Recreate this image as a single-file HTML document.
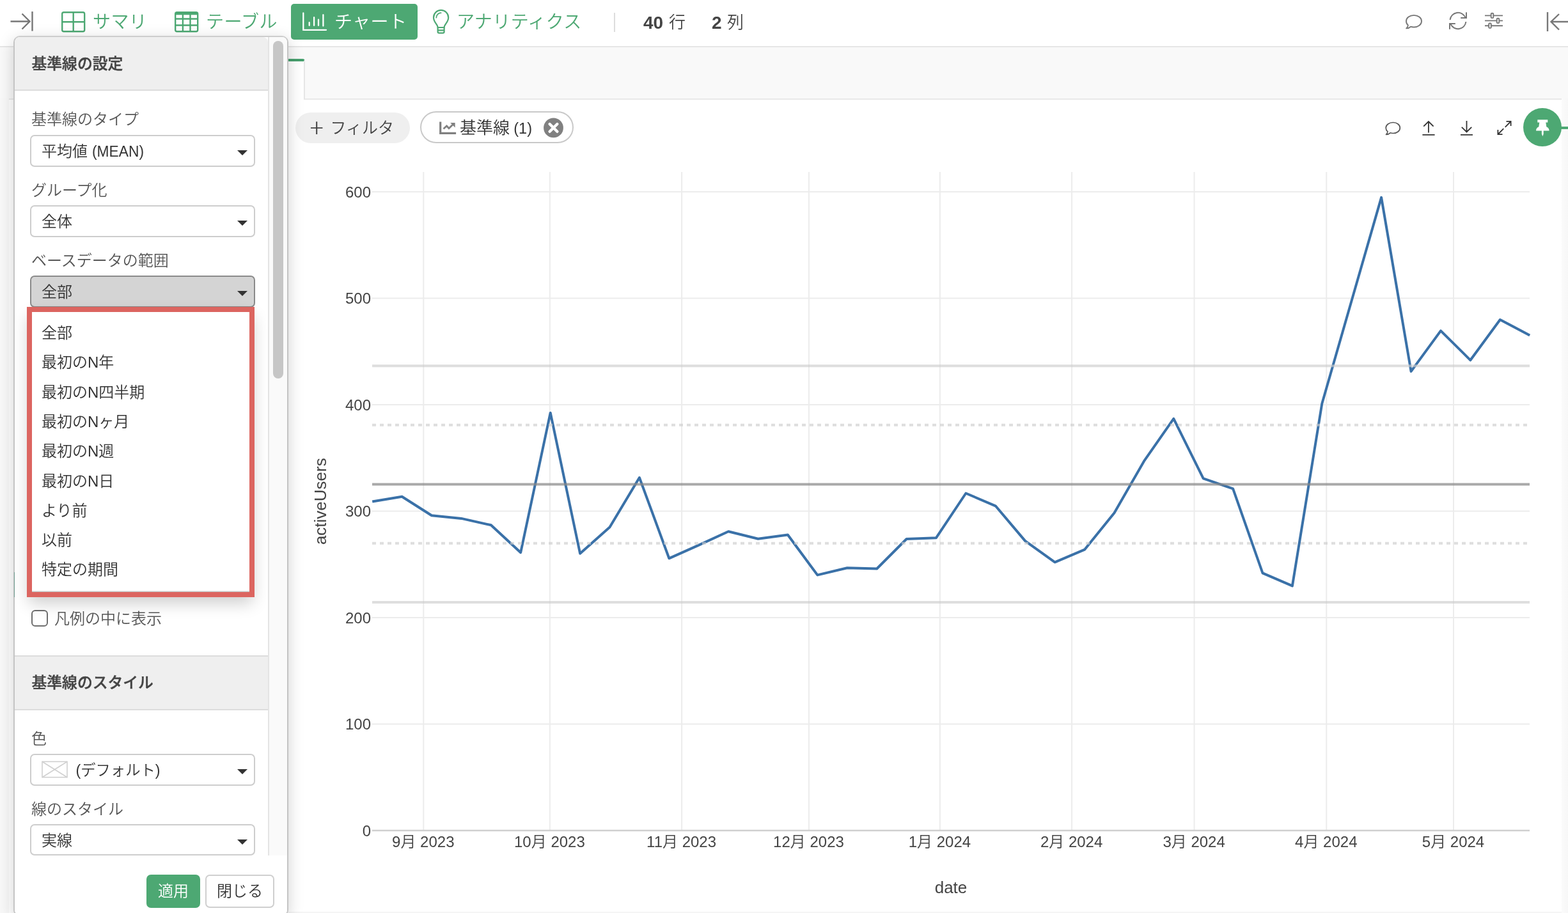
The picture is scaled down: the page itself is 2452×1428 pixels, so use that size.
<!DOCTYPE html>
<html lang="ja">
<head>
<meta charset="utf-8">
<title>チャート - 基準線の設定</title>
<style>
*{box-sizing:border-box;}
html,body{margin:0;padding:0;width:2452px;height:1428px;overflow:hidden;background:#fff;}
body{position:relative;font-family:"Liberation Sans","Noto Sans CJK JP",sans-serif;color:#333;font-weight:350;}
b{font-weight:700;}
.abs{position:absolute;}
.t{position:absolute;white-space:nowrap;line-height:1;}
.jp{font-family:"Liberation Sans","Noto Sans CJK JP",sans-serif;}
.topbar{position:absolute;left:0;top:0;width:2452px;height:72px;background:#fff;}
.topline{position:absolute;left:0;top:72px;width:2452px;height:2px;background:#e6e6e6;}
.tabarea{position:absolute;left:0;top:74px;width:2452px;height:80px;background:#f9f9f9;}
.tabline{position:absolute;left:14px;top:154px;width:2428px;height:2px;background:#e9e9e9;}
.tab{position:absolute;left:440px;top:92px;width:37px;height:64px;background:#fff;border-top:4px solid #469f6d;border-right:2px solid #e6e6e6;border-top-right-radius:4px;}
.rstrip{position:absolute;left:2442px;top:154px;width:10px;height:1274px;background:linear-gradient(to right,#fbfbfb,#f7f7f7);}
.botline{position:absolute;left:451px;top:1426px;width:1991px;height:2px;background:#f5f5f5;}
.nav{font-size:28px;color:#4da873;letter-spacing:0.4px;}
.chart{position:absolute;left:0;top:0;}
.tick{font-family:"Liberation Sans",sans-serif;font-size:24px;fill:#444;}
.tick{font-family:"Liberation Sans","Noto Sans CJK JP",sans-serif;}
.atitle{font-family:"Liberation Sans",sans-serif;font-size:26px;fill:#444;}
.chartbtn{position:absolute;left:455px;top:6px;width:198px;height:56px;border-radius:5px;background:#4da873;}
.pill1{position:absolute;left:462px;top:176px;width:179px;height:48px;border-radius:24px;background:#efefef;}
.pill2{position:absolute;left:657px;top:174px;width:240px;height:50px;border-radius:25px;background:#fff;border:2px solid #c9c9c9;}
.pin{position:absolute;left:2382px;top:169px;width:60px;height:60px;border-radius:30px;background:#4da873;}
.pinline{position:absolute;left:2440px;top:198px;width:12px;height:4px;background:#4da873;}
/* panel */
.panel{position:absolute;left:21px;top:56px;width:430px;height:1377px;background:#fff;border:2px solid #c4c4c4;border-top-color:#cdcdcd;border-radius:10px;box-shadow:0 6px 24px rgba(0,0,0,0.18);overflow:hidden;}
.phead{position:absolute;left:0;width:396px;background:#efefef;border-bottom:2px solid #dcdcdc;}
.ptitle{font-size:23.8px;font-weight:500;color:#444;-webkit-text-stroke:0.4px #444;}
.sbtrack{position:absolute;left:396px;top:0;width:30px;height:1280px;background:#fafafa;border-left:2px solid #e4e4e4;}
.sbthumb{position:absolute;left:404px;top:6px;width:16px;height:528px;border-radius:8px;background:#c6c6c6;}
.lbl{font-size:24px;color:#555;}
.sel{position:absolute;left:24px;width:352px;height:50px;border:2px solid #cdcdcd;border-radius:7px;background:#fff;}
.sel.on{background:#d4d4d4;border-color:#8a8a8a;}
.sel .v{position:absolute;left:16px;top:1px;line-height:46px;font-size:24px;color:#333;white-space:nowrap;}
.sel .c{position:absolute;right:10px;top:22px;width:0;height:0;border-left:8px solid transparent;border-right:8px solid transparent;border-top:8px solid #333;}
.dd{position:absolute;left:19px;top:422px;width:356px;height:454px;background:#fff;border:8px solid #dc6560;box-shadow:0 12px 24px -3px rgba(0,0,0,0.2);}
.dd:after{content:'';position:absolute;left:0;right:0;bottom:0;height:2px;background:linear-gradient(rgba(0,0,0,0.05),rgba(0,0,0,0.28));}
.dd .i{position:absolute;left:15px;font-size:24px;color:#333;white-space:nowrap;line-height:46px;height:46px;}
.cb{position:absolute;left:26px;top:896px;width:26px;height:26px;border:2px solid #6e6e6e;border-radius:6px;background:#fff;}
.pfoot{position:absolute;left:0;top:1280px;width:426px;height:120px;background:#fff;}
.btn{position:absolute;top:1310px;height:52px;border-radius:7px;font-size:24px;text-align:center;line-height:48px;white-space:nowrap;}
.btn.ok{left:206px;width:84px;background:#4da873;color:#fff;border:2px solid #4da873;}
.btn.cl{left:298px;width:108px;background:#fff;color:#333;border:2px solid #cfcfcf;}
</style>
</head>
<body>
<div class="topbar"></div>
<div class="topline"></div>
<div class="tabarea"></div>
<div class="tabline"></div>
<div class="tab"></div>
<div class="rstrip"></div>
<div class="abs" style="left:0;top:154px;width:14px;height:1274px;background:#f8f8f8"></div>
<div class="botline"></div>

<!-- top nav -->
<div class="t nav" style="left:145px;top:21px">サマリ</div>
<div class="t nav" style="left:322px;top:21px">テーブル</div>
<div class="chartbtn"></div>
<div class="t nav" style="left:523px;top:21px;color:#fff">チャート</div>
<div class="t nav" style="left:714px;top:21px">アナリティクス</div>
<div class="abs" style="left:960px;top:20px;width:2px;height:30px;background:#ddd"></div>
<div class="t" style="left:1006px;top:22px;font-size:28px;color:#444"><b>40</b></div><div class="t" style="left:1046px;top:22px;font-size:26px;color:#444">行</div>
<div class="t" style="left:1113px;top:22px;font-size:28px;color:#444"><b>2</b></div><div class="t" style="left:1137px;top:22px;font-size:26px;color:#444">列</div>

<!-- chart toolbar -->
<div class="pill1"></div>
<div class="t" style="left:484.500px;top:178px;font-size:40px;font-weight:300;color:#444;font-family:'Noto Sans CJK JP',sans-serif">+</div>
<div class="t" style="left:516.500px;top:188px;font-size:25px;color:#444">フィルタ</div>
<div class="pill2"></div>
<div class="t" style="left:719px;top:187px;font-size:26px;color:#333">基準線 <span style="font-size:23.500px;margin-left:-1px">(1)</span></div>
<div class="pinline"></div>
<div class="pin"></div>

<svg class="abs" style="left:0;top:0" width="2452" height="240" viewBox="0 0 2452 240" fill="none">
  <!-- expand sidebar -->
  <path d="M16.500 33.500H46M34.500 21.500L46.500 33.500L34.500 45.500M50.500 18V48.500" stroke="#777" stroke-width="2.400"/>
  <!-- summary -->
  <g stroke="#4da873" stroke-width="2.400"><rect x="97.200" y="19.200" width="35" height="30" rx="2.500"/><path d="M114.700 19.200V49.200M97.200 34.200H132.200"/></g>
  <!-- table -->
  <g stroke="#4da873" stroke-width="2.400"><rect x="274.200" y="19.200" width="35" height="30" rx="2.500"/><path d="M274.200 21.200H309.200" stroke-width="4"/><path d="M285.900 19.200V49.200M297.500 19.200V49.200M274.200 29.500H309.200M274.200 39.500H309.200"/></g>
  <!-- chart -->
  <g stroke="#fff" stroke-width="2.300" stroke-linecap="round"><path d="M474.300 20.500V46.800H510"/><path d="M483.700 39.800V35.200M491.100 39.800V27.200M498 39.800V30.700M505.400 40.500V23.200"/></g>
  <!-- bulb -->
  <g stroke="#4da873" stroke-width="2.200" stroke-linejoin="round" stroke-linecap="round"><path d="M684.600 43C684.600 38 678 35 678 27.500A11.600 11.600 0 0 1 701.200 27.500C701.200 35 694.600 38 694.600 43Z"/><path d="M684.600 43V49.500Q684.600 51.600 686.700 51.600H692.500Q694.600 51.600 694.600 49.500V43M684.600 47.300H694.600"/><path d="M682.300 27.500A7.300 7.300 0 0 1 689.600 20.200" stroke-width="1.800"/></g>
  <!-- comment (top) -->
  <path d="M2211 23.900C2217.700 23.900 2223 28 2223 33.200C2223 38.400 2217.700 42.500 2211 42.500C2209.200 42.500 2207.600 42.200 2206.100 41.700C2204.400 43.300 2202.100 44.300 2199.200 44.400C2200.700 43 2201.700 41.200 2201.900 39.400C2200 37.700 2199 35.600 2199 33.200C2199 28 2204.300 23.900 2211 23.900Z" stroke="#777" stroke-width="1.900" stroke-linejoin="round"/>
  <!-- refresh -->
  <g stroke="#777" stroke-width="2"><path d="M2267.600 31A12.500 12.500 0 0 1 2291.500 27.300M2293 19.200V28H2284.200"/><path d="M2292.400 34A12.500 12.500 0 0 1 2268.500 37.700M2267 45.800V37H2275.800"/></g>
  <!-- sliders -->
  <g stroke="#777" stroke-width="1.900" fill="#fff"><path d="M2322 24.400H2350M2322 32.400H2350M2322 40.200H2350"/><rect x="2331.700" y="20.700" width="3.600" height="7.400" rx="1.200"/><rect x="2340.700" y="28.700" width="3.600" height="7.400" rx="1.200"/><rect x="2328.200" y="36.500" width="3.600" height="7.400" rx="1.200"/></g>
  <!-- collapse right -->
  <path d="M2420 19V49M2452 34H2425.500M2438 22L2425.500 34L2438 46.500" stroke="#777" stroke-width="2.400"/>

  <!-- pill icon: chart-line -->
  <g stroke="#808080" fill="none"><path d="M688.700 190.400V208.400H713.100" stroke-width="3.200"/><path d="M693.500 201.500L698.500 197L702 200.700L708 195" stroke-width="2.800"/><path d="M704.200 192H711.600V199.400Z" fill="#808080" stroke="none"/></g>
  <!-- pill close -->
  <circle cx="865.500" cy="199.900" r="15.400" fill="#808080"/>
  <path d="M859.600 194L871.400 205.800M871.400 194L859.600 205.800" stroke="#fff" stroke-width="4.400" stroke-linecap="round"/>

  <!-- comment (chart) -->
  <path d="M2178.500 191.500C2184.600 191.500 2189.300 195.300 2189.300 200C2189.300 204.700 2184.600 208.500 2178.500 208.500C2176.900 208.500 2175.400 208.200 2174.100 207.800C2172.500 209.300 2170.300 210.400 2167.500 210.500C2168.900 209.200 2169.800 207.500 2170 205.800C2168.200 204.300 2167.200 202.300 2167.200 200C2167.200 195.300 2172.400 191.500 2178.500 191.500Z" stroke="#555" stroke-width="1.700" stroke-linejoin="round"/>
  <!-- upload -->
  <path d="M2233.900 207.500V190M2226.200 197.700L2233.900 190L2241.600 197.700M2224.400 210.800H2243.600" stroke="#333" stroke-width="1.800"/>
  <!-- download -->
  <path d="M2293.500 189V206.500M2285.800 198.800L2293.500 206.500L2301.200 198.800M2284 210.800H2303" stroke="#333" stroke-width="1.800"/>
  <!-- expand -->
  <path d="M2342 210.500L2351.300 201.200M2353.700 198.800L2363 189.500M2355.500 189.900H2362.600V197M2342.400 203V210.100H2349.500" stroke="#333" stroke-width="1.800"/>
  <!-- pin -->
  <path d="M2404.300 187.300H2420.300V191.600H2417.300L2418.300 198.200C2420.800 199.200 2422.600 201.400 2422.600 204.500H2413.700V209.500L2412.300 213.200L2410.900 209.500V204.500H2402C2402 201.400 2403.800 199.200 2406.300 198.200L2407.300 191.600H2404.300Z" fill="#fff"/>
</svg>

<svg class="chart" width="2452" height="1428" viewBox="0 0 2452 1428">
<line x1="662.3" y1="269" x2="662.3" y2="1299" stroke="#ececec" stroke-width="2"/>
<line x1="859.9" y1="269" x2="859.9" y2="1299" stroke="#ececec" stroke-width="2"/>
<line x1="1066.1" y1="269" x2="1066.1" y2="1299" stroke="#ececec" stroke-width="2"/>
<line x1="1265.0" y1="269" x2="1265.0" y2="1299" stroke="#ececec" stroke-width="2"/>
<line x1="1469.9" y1="269" x2="1469.9" y2="1299" stroke="#ececec" stroke-width="2"/>
<line x1="1676.1" y1="269" x2="1676.1" y2="1299" stroke="#ececec" stroke-width="2"/>
<line x1="1867.6" y1="269" x2="1867.6" y2="1299" stroke="#ececec" stroke-width="2"/>
<line x1="2074.3" y1="269" x2="2074.3" y2="1299" stroke="#ececec" stroke-width="2"/>
<line x1="2273.0" y1="269" x2="2273.0" y2="1299" stroke="#ececec" stroke-width="2"/>
<line x1="582" y1="300.0" x2="2392" y2="300.0" stroke="#ececec" stroke-width="2"/>
<line x1="582" y1="466.5" x2="2392" y2="466.5" stroke="#ececec" stroke-width="2"/>
<line x1="582" y1="633.0" x2="2392" y2="633.0" stroke="#ececec" stroke-width="2"/>
<line x1="582" y1="799.5" x2="2392" y2="799.5" stroke="#ececec" stroke-width="2"/>
<line x1="582" y1="966.0" x2="2392" y2="966.0" stroke="#ececec" stroke-width="2"/>
<line x1="582" y1="1132.5" x2="2392" y2="1132.5" stroke="#ececec" stroke-width="2"/>
<line x1="582" y1="1299" x2="2392" y2="1299" stroke="#cfcfcf" stroke-width="2.5"/>
<polyline points="582.2,784.5 628.6,776.7 675.0,806.2 721.4,810.9 767.8,821.3 814.2,864.2 860.7,645.7 907.1,865.7 953.5,824.5 999.9,747.0 1046.3,873.3 1092.7,852.7 1139.1,831.3 1185.5,842.8 1231.9,836.5 1278.3,899.4 1324.8,888.2 1371.2,889.5 1417.6,843.0 1464.0,841.2 1510.4,771.5 1556.8,791.3 1603.2,846.1 1649.6,879.3 1696.0,859.7 1742.5,802.3 1788.9,721.4 1835.3,654.8 1881.7,748.3 1928.1,764.4 1974.5,896.3 2020.9,916.4 2067.3,631.3 2113.7,470.0 2160.1,308.9 2206.6,580.9 2253.0,517.4 2299.4,563.3 2345.8,500.0 2392.2,524.4" fill="none" stroke="#3a71a8" stroke-width="4" stroke-linejoin="round"/>
<line x1="582" y1="572.3" x2="2392" y2="572.3" stroke="#cccccc" stroke-opacity="0.65" stroke-width="4"/>
<line x1="582" y1="942" x2="2392" y2="942" stroke="#cccccc" stroke-opacity="0.65" stroke-width="4"/>
<line x1="582" y1="664.7" x2="2392" y2="664.7" stroke="#cccccc" stroke-opacity="0.65" stroke-width="4" stroke-dasharray="6 6"/>
<line x1="582" y1="849.8" x2="2392" y2="849.8" stroke="#cccccc" stroke-opacity="0.65" stroke-width="4" stroke-dasharray="6 6"/>
<line x1="582" y1="757.4" x2="2392" y2="757.4" stroke="#888888" stroke-opacity="0.72" stroke-width="4"/>
<text x="580" y="308.6" text-anchor="end" class="tick">600</text>
<text x="580" y="475.1" text-anchor="end" class="tick">500</text>
<text x="580" y="641.6" text-anchor="end" class="tick">400</text>
<text x="580" y="808.1" text-anchor="end" class="tick">300</text>
<text x="580" y="974.6" text-anchor="end" class="tick">200</text>
<text x="580" y="1141.1" text-anchor="end" class="tick">100</text>
<text x="580" y="1307.6" text-anchor="end" class="tick">0</text>
<text x="661.8" y="1324.6" text-anchor="middle" class="tick">9月 2023</text>
<text x="859.4" y="1324.6" text-anchor="middle" class="tick">10月 2023</text>
<text x="1065.6" y="1324.6" text-anchor="middle" class="tick">11月 2023</text>
<text x="1264.5" y="1324.6" text-anchor="middle" class="tick">12月 2023</text>
<text x="1469.4" y="1324.6" text-anchor="middle" class="tick">1月 2024</text>
<text x="1675.6" y="1324.6" text-anchor="middle" class="tick">2月 2024</text>
<text x="1867.1" y="1324.6" text-anchor="middle" class="tick">3月 2024</text>
<text x="2073.8" y="1324.6" text-anchor="middle" class="tick">4月 2024</text>
<text x="2272.5" y="1324.6" text-anchor="middle" class="tick">5月 2024</text>
<text x="1487" y="1397" text-anchor="middle" class="atitle">date</text>
<text transform="translate(510.3,784.2) rotate(-90)" text-anchor="middle" class="atitle">activeUsers</text>
</svg>

<!-- settings panel -->
<div class="panel">
  <div class="phead" style="top:0;height:84px;border-radius:8px 8px 0 0"></div>
  <div class="t ptitle" style="left:26.500px;top:30px">基準線の設定</div>

  <div class="t lbl" style="left:26px;top:117px">基準線のタイプ</div>
  <div class="sel" style="top:153px"><span class="v">平均値 <span style="display:inline-block;font-size:24.4px;transform:scaleX(0.935);transform-origin:0 50%">(MEAN)</span></span><span class="c"></span></div>

  <div class="t lbl" style="left:26px;top:228px">グループ化</div>
  <div class="sel" style="top:263px"><span class="v">全体</span><span class="c"></span></div>

  <div class="t lbl" style="left:26px;top:338px">ベースデータの範囲</div>
  <div class="sel on" style="top:373px"><span class="v">全部</span><span class="c"></span></div>

  <div class="cb"></div>
  <div class="t lbl" style="left:62px;top:898px">凡例の中に表示</div>

  <div class="phead" style="top:967px;height:86px;border-top:2px solid #dcdcdc"></div>
  <div class="t ptitle" style="left:26.500px;top:998px">基準線のスタイル</div>

  <div class="t lbl" style="left:26px;top:1086px">色</div>
  <div class="sel" style="top:1121px"><svg class="abs" style="left:16px;top:9px" width="42" height="28" viewBox="0 0 42 28" fill="none" stroke="#d0d0d0" stroke-width="1.6"><rect x="1" y="1.3" width="39" height="24.4"/><path d="M1 1.3L40 25.7M40 1.3L1 25.7"/></svg><span class="v" style="left:69.500px;font-size:23.3px">(デフォルト)</span><span class="c"></span></div>

  <div class="t lbl" style="left:26px;top:1196px">線のスタイル</div>
  <div class="sel" style="top:1231px;height:49px"><span class="v">実線</span><span class="c"></span></div>

  <div class="sbtrack"></div>
  <div class="sbthumb"></div>

  <div class="dd">
    <div class="i" style="top:10px">全部</div>
    <div class="i" style="top:56px">最初のN年</div>
    <div class="i" style="top:103px">最初のN四半期</div>
    <div class="i" style="top:149px">最初のNヶ月</div>
    <div class="i" style="top:195px">最初のN週</div>
    <div class="i" style="top:242px">最初のN日</div>
    <div class="i" style="top:288px">より前</div>
    <div class="i" style="top:334px">以前</div>
    <div class="i" style="top:380px">特定の期間</div>
  </div>

  <div class="pfoot"></div>
  <div class="btn ok">適用</div>
  <div class="btn cl">閉じる</div>
</div>
<div class="abs" style="left:22px;top:895px;width:1px;height:39px;background:rgba(70,140,120,0.65)"></div>
</body>
</html>
